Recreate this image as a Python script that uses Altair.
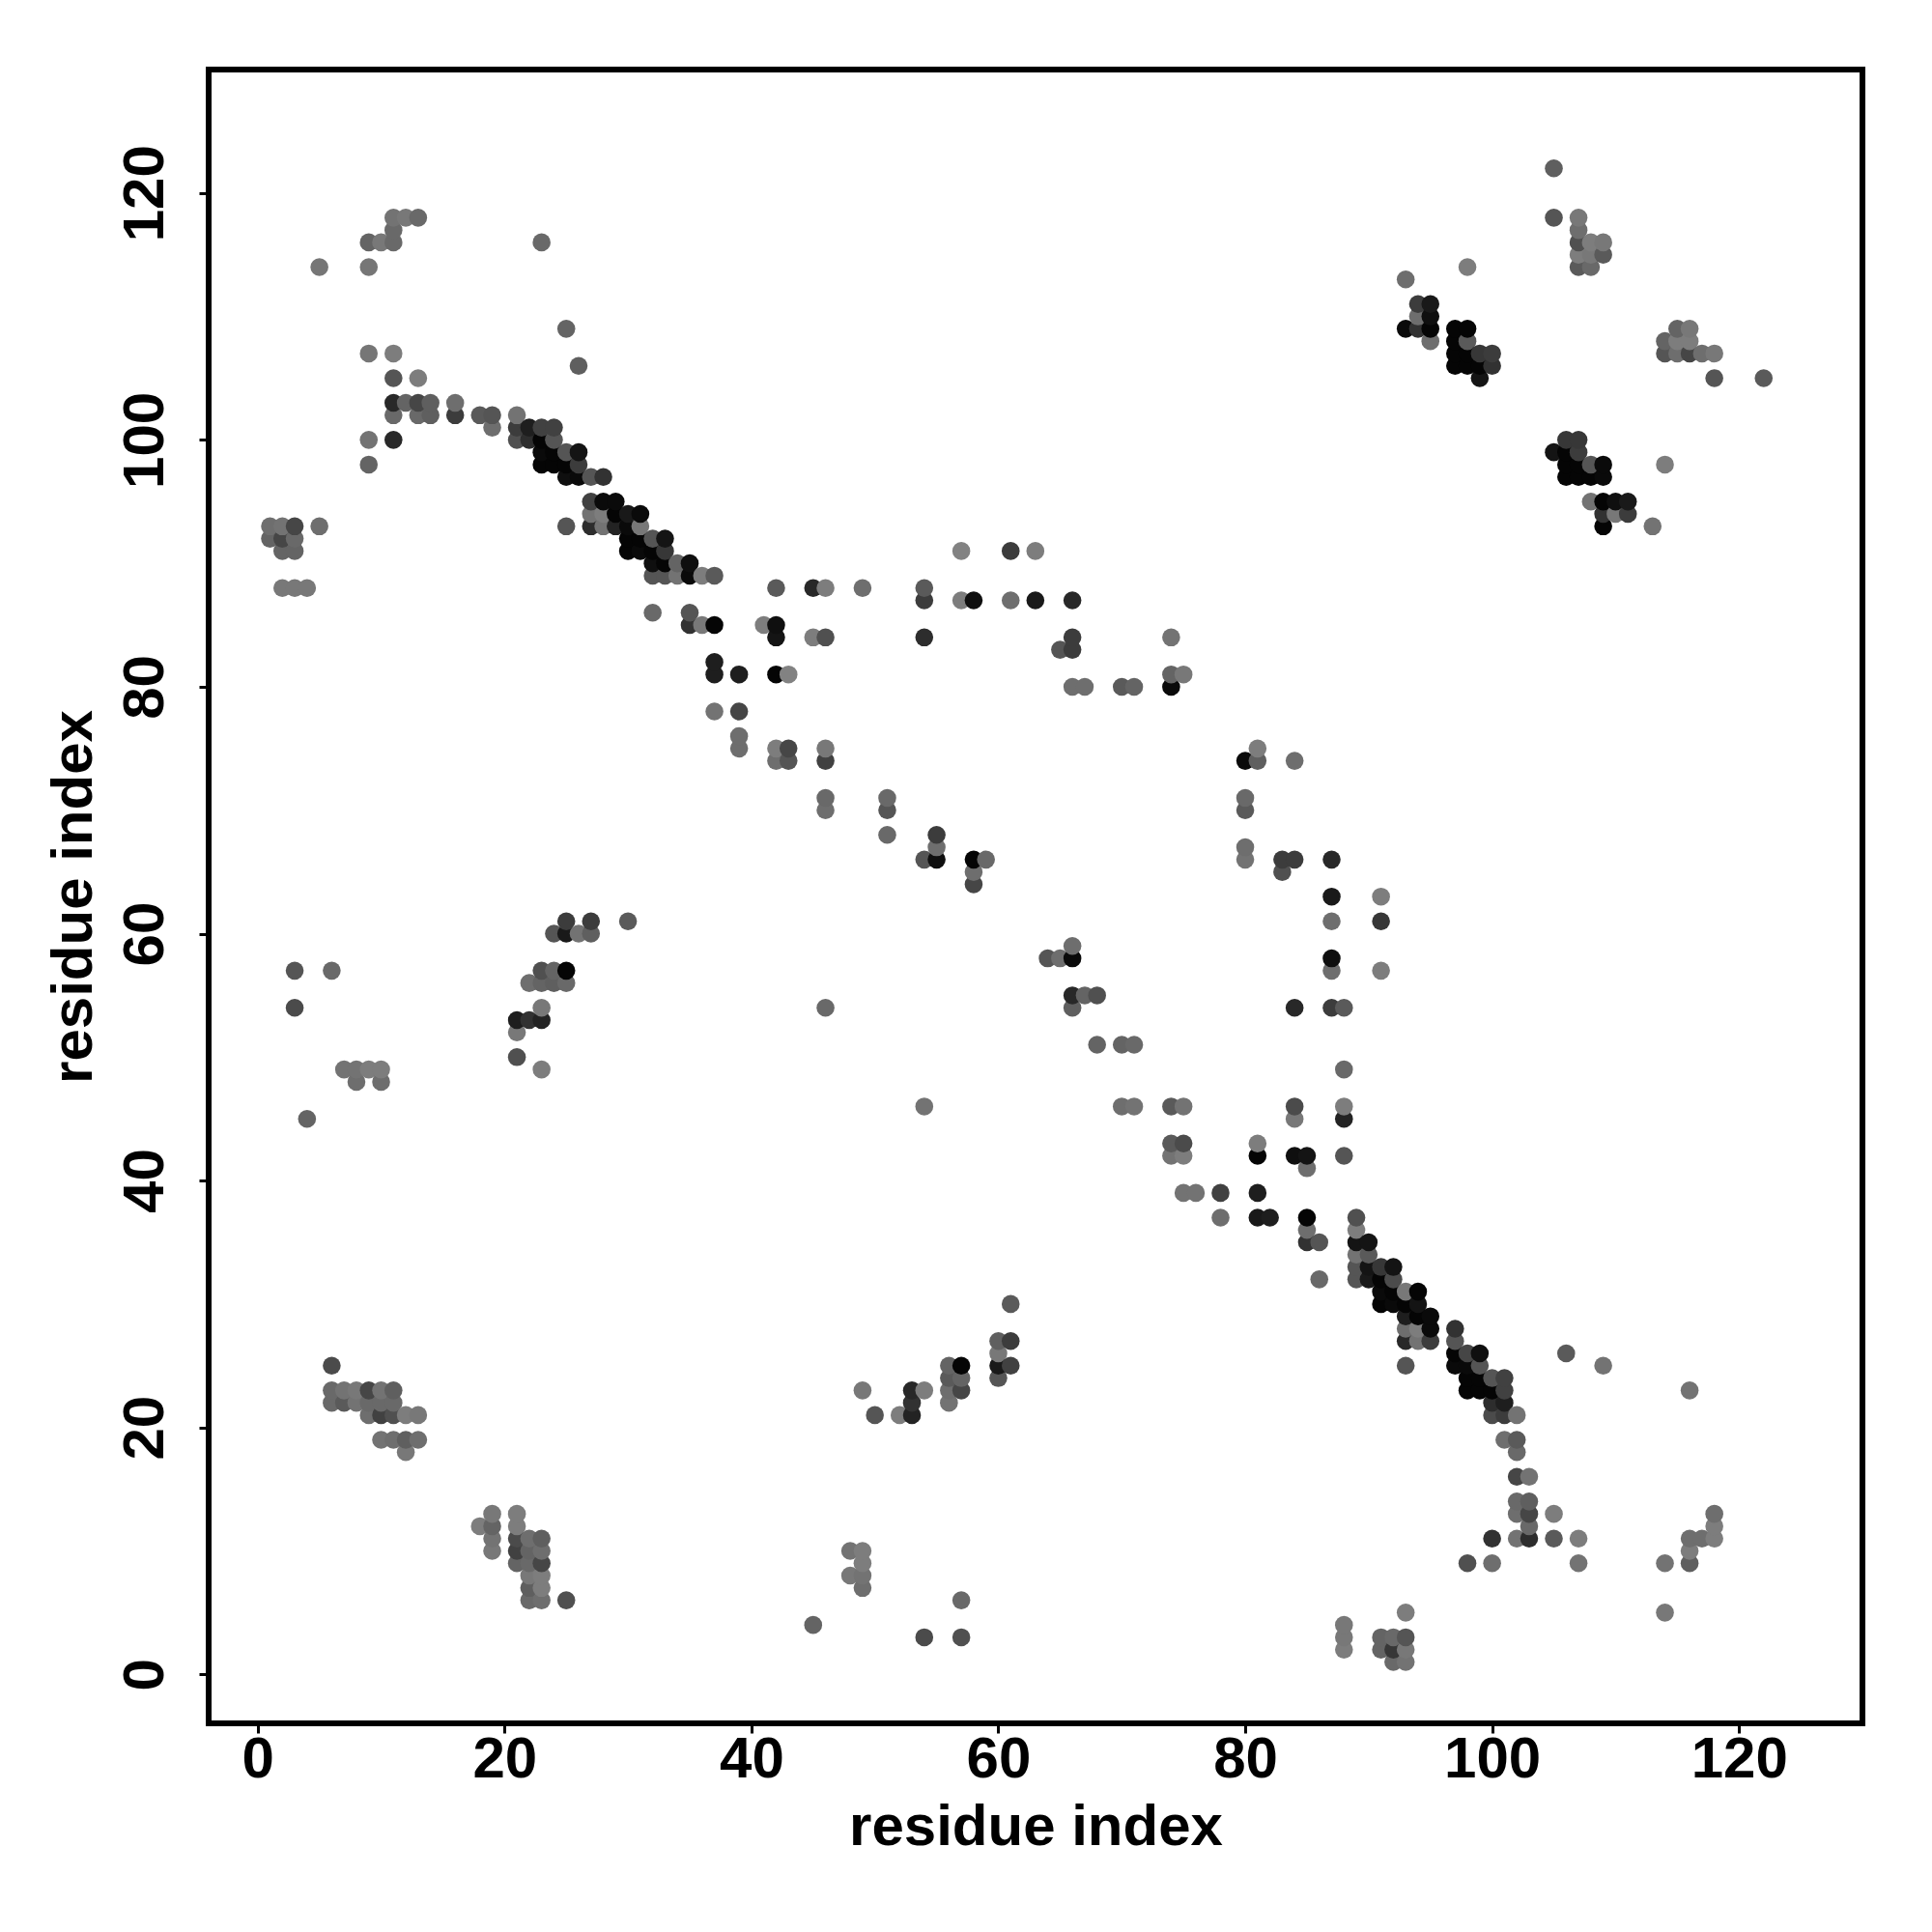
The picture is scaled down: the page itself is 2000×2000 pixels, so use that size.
import altair as alt
import pandas as pd

row_y = [122,118,117,116,115,114,113,111,110,109,108,107,106,105,103,102,101,100,99,98,97,95,94,93,92,91,90,89,88,87,86,85,84,83,82,81,80,78,76,75,74,71,70,68,67,66,65,64,63,61,60,59,58,57,56,55,54,53,52,51,50,49,48,46,45,43,42,41,39,37,36,35,34,33,32,31,30,29,28,27,26,25,24,23,22,21,19,18,16,14,13,12,11,10,9,8,7,6,5,4,3,2,1]

row_x = [
 [105],[11,12,13,105,107],[11,107],[9,10,11,23,107,108,109],[107,108,109],[5,9,98,107,108],[93],[94,95],[94,95],
 [25,93,94,95,97,98,115,116],[95,97,98,114,115,116],[9,11,97,98,99,100,114,115,116,117,118],[26,97,98,99,100],
 [11,13,99,118,122],[11,12,13,14,16],[11,13,14,16,18,19,21],[19,21,22,23,24],[9,11,21,22,23,24,106,107],
 [23,24,25,26,105,106,107],[9,23,24,25,26,106,107,108,109,114],[25,26,27,28,106,107,108,109],[27,28,29,108,109,110,111],
 [27,28,29,30,31,109,110,111],[1,2,3,5,25,27,28,29,30,31,109,113],[1,2,3,30,31,32,33],[2,3,30,31,32,33,57,61,63],
 [32,33,34,35],[32,33,34,35,36,37],[2,3,4,42,45,46,49,54],[54,57,58,61,63,66],[32,35],[35,36,37,41,42],[42,45,46,54,66,74],
 [65,66],[37],[37,39,42,43,74,75],[66,67,70,71,74],[37,39],[39],[39,42,43,46,81],[42,43,46,80,81,84],[46,51,80],[46,51,80],
 [51,55],[55,80],[54,55,58,59,80,83,84,87],[58,83],[58],[87,91],[25,27,30,87,91],[24,25,26,27],[66],[64,65,66,87],
 [3,6,23,24,25,87,91],[22,23,24,25],[66,67,68],[3,23,46,66,84,87,88],[21,22,23],[21],[68,70,71],[21],[7,8,9,10,23,88],[8,10],
 [54,70,71,74,75,84,88],[4,84,88],[74,75,81],[74,75,81,84,85,88],[85],[75,76,78,81],[78,81,82,85,89],[85,89],[85,86,89,90],
 [89,90],[89,90,91,92],[86,89,90,91,92],[91,92,93,94],[61,91,92,93,94],[93,94,95],[93,94,95,97],[60,61,93,94,95,97],
 [60,97,98,99,106],[6,56,57,60,61,93,97,98,99,109],[56,57,60,98,99,100,101],
 [6,7,8,9,10,11,49,53,54,56,57,98,99,100,101,116],[6,7,8,9,10,11,53,56,100,101],[9,10,11,12,13,50,52,53,100,101,102],
 [10,11,12,13,101,102],[12,102],[102,103],[102,103],[19,21,102,103,105,118],[18,19,21,103,118],
 [19,21,22,23,100,102,103,105,107,116,117,118],[19,21,22,23,48,49,116],[21,22,23,49,98,100,107,114,116],[22,23,48,49],
 [22,23,49],[22,23,25,57],[93,114],[45,88],[54,57,88,91,92,93],[88,91,92,93],[92,93],
]

row_grey = [
 [95],[115,120,105,85,120],[105,110],[100,120,105,105,80,125,120],[125,120,90],[118,118,125,90,105],[110],[60,25],[110,15],
 [100,10,50,5,5,5,100,120],[110,5,90,100,125,125],[118,125,5,5,55,60,85,110,70,110,120],[95,5,5,5,50],
 [85,125,20,85,90],[40,100,70,95,110],[105,105,95,60,90,85,115],[110,60,30,65,65],[115,40,80,45,5,85,55,55],
 [10,5,85,20,20,5,60],[100,5,5,5,60,5,5,85,10,125],[15,10,85,50,5,5,5,10],[65,10,10,115,5,15,25],
 [115,125,5,25,10,50,120,60],[110,115,70,110,85,45,115,35,10,120,5,115],[100,70,105,5,5,85,20],[100,100,5,10,5,55,130,60,125],
 [15,5,100,15],[85,85,115,10,125,90],[120,120,120,90,40,125,110,90],[60,125,15,110,25,40],[105,85],[50,120,5,125,15],[20,125,80,45,60,115],
 [85,60],[30],[30,30,5,130,100,120],[110,110,90,100,10],[115,70],[110],[110,125,70,120,125],[110,85,65,10,95,110],[105,105,105],[110,85,90],
 [105,60],[110,110],[85,15,5,105,115,60,60,40],[110,80],[70],[25,125],[60,60,90,110,55],[85,25,115,95],[110],[85,110,10,15],
 [85,105,80,100,5,110,125],[110,100,95,105],[40,100,80],[75,120,105,95,40,60,90],[30,50,35],[120],[100,100,105],[80],[115,115,125,125,125,105],[110,110],
 [115,110,115,90,115,75,125],[100,120,35],[90,75,125],[115,125,5,15,20,85],[110],[115,115,65,30],[110,25,30,5,80],[110,125],[50,85,20,20],
 [115,90],[85,20,55,20],[105,85,25,5,75],[10,5,120,5],[90,5,10,5,20],[30,5,10],[110,125,10,50],[95,60,40,115,60,85],
 [120,5,70,15,90],[75,100,5,25,65,85,10,10,85,115],[90,100,85,5,5,85,65],
 [105,115,120,70,115,95,120,40,125,110,70,5,5,5,65,115],[105,90,115,105,105,105,50,115,45,30],[110,65,80,125,120,85,125,35,75,60,115],
 [115,110,95,110,110,90],[120,105],[70,115],[105,95],[120,125,110,70,125,110],[125,100,125,105,125],
 [115,75,110,95,50,115,45,90,125,110,110,125],[120,65,100,110,115,125,125],[100,105,70,125,80,110,115,115,95],[120,125,120,115],
 [95,125,110],[105,110,80,105],[125,120],[100,120],[75,80,120,100,105,85],[125,100,55,120],[105,115],
]

tick_values = [0, 20, 40, 60, 80, 100, 120]
axis_title = "residue index"


def grey_hex(level):
    return "#{0:02x}{0:02x}{0:02x}".format(level)


records = []
for y, xs, greys in zip(row_y, row_x, row_grey):
    for x, g in zip(xs, greys):
        records.append({"x": x, "y": y, "colour": grey_hex(g)})
df = pd.DataFrame(records).sort_values(["x", "y"]).reset_index(drop=True)

scale = alt.Scale(domain=[-3.97, 130], zero=False, nice=False)


def axis(angle=0, **kwargs):
    return alt.Axis(
        values=tick_values, title=axis_title, grid=False, domain=False,
        tickColor="black", tickWidth=3, tickSize=10,
        labelFont="Liberation Sans", labelFontWeight="bold", labelFontSize=60, labelColor="black",
        titleFont="Liberation Sans", titleFontWeight="bold", titleFontSize=60, titleColor="black",
        labelAngle=angle, **kwargs,
    )


chart = (
    alt.Chart(df)
    .mark_circle(size=345, opacity=1, stroke=None)
    .encode(
        x=alt.X("x:Q", scale=scale, axis=axis(labelPadding=-2, titlePadding=11)),
        y=alt.Y("y:Q", scale=scale, axis=axis(angle=270, labelPadding=25, titlePadding=13)),
        color=alt.Color("colour:N", scale=None),
    )
    .properties(
        width=1712, height=1712,
        autosize=alt.AutoSizeParams(type="none"),
        padding={"left": 208, "top": 64, "right": 64, "bottom": 208},
    )
    .configure_view(stroke="black", strokeWidth=6)
)

chart.save("out.html", embed_options={"renderer": "svg", "actions": False})
